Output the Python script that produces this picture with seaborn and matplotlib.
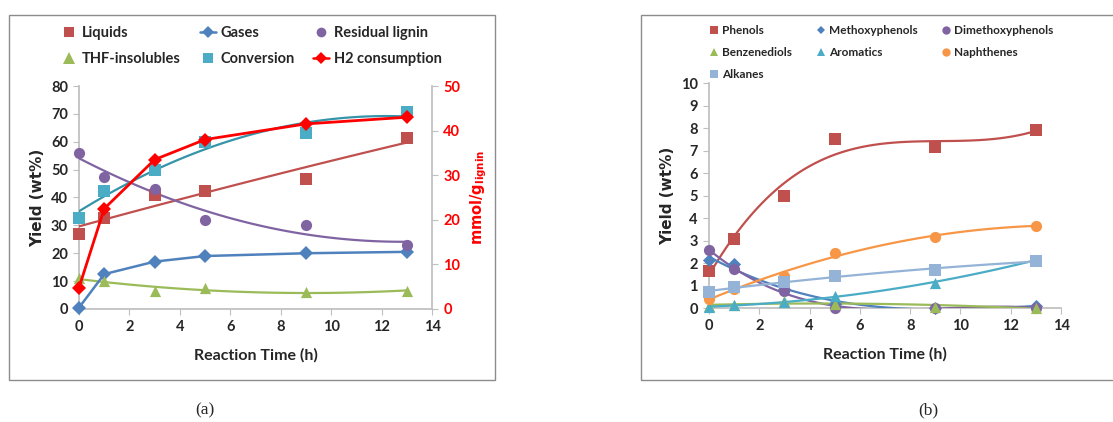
import numpy as np
import pandas as pd
import matplotlib.pyplot as plt
import seaborn as sns
from matplotlib.lines import Line2D
from matplotlib.patches import Rectangle

# Reaction times (h)
time_h = [0, 1, 3, 5, 9, 13]

# Panel (a): product yields (wt%) and H2 consumption (mmol/g lignin)
liquids = [27, 32.5, 41, 42.5, 46.5, 61.5]
gases = [0.5, 12.5, 17, 19, 20, 20.5]
residual_lignin = [56, 47.5, 43, 32, 30, 23]
thf_insolubles = [11, 10, 6.5, 7.5, 6, 6.5]
conversion = [32.5, 42.5, 50, 60, 63, 70.5]
h2_consumption = [4.8, 22.5, 33.5, 38, 41.5, 43]

# Panel (b): monomer yields (wt%)
phenols = [1.65, 3.08, 4.98, 7.53, 7.14, 7.93]
methoxyphenols = [2.13, 1.95, 0.85, 0.2, 0.0, 0.08]
dimethoxyphenols = [2.6, 1.72, 0.77, 0.0, 0.0, 0.0]
benzenediols = [0.1, 0.15, 0.3, 0.2, 0.05, 0.0]
aromatics = [0.04, 0.13, 0.25, 0.55, 1.11, 2.15]
naphthenes = [0.41, 0.84, 1.44, 2.46, 3.17, 3.66]
alkanes = [0.71, 0.93, 1.16, 1.41, 1.7, 2.09]

# Excel 2010 colours
RED_BROWN = '#C0504D'
BLUE = '#4F81BD'
PURPLE = '#8064A2'
GREEN = '#9BBB59'
TEAL = '#4BACC6'
ORANGE = '#F79646'
LIGHT_BLUE = '#95B3D7'
AXIS_GRAY = '#BFBFBF'

sns.set_theme(style='white')
plt.rcParams['font.family'] = ['Lato', 'DejaVu Sans']
plt.rcParams['font.weight'] = 'bold'
plt.rcParams['mathtext.fontset'] = 'dejavusans'

fig = plt.figure(figsize=(11.13, 4.22), dpi=100)
ax_a = fig.add_axes([0.0710, 0.2678, 0.3172, 0.5284])
ax_h2 = ax_a.twinx()
ax_b = fig.add_axes([0.6370, 0.2701, 0.3163, 0.5332])

# outer frames of the two panels
fig.patches.append(Rectangle((0.0081, 0.0995), 0.4367, 0.865, transform=fig.transFigure,
                             fill=False, edgecolor='#8c8c8c', lw=1.0))
fig.patches.append(Rectangle((0.5760, 0.0995), 0.43, 0.865, transform=fig.transFigure,
                             fill=False, edgecolor='#8c8c8c', lw=1.0))


def trend(ax, vals, color, marker, order, size=65, line_color=None, lw=1.6):
    # markers plus polynomial trendline (Excel style)
    sns.regplot(x=time_h, y=vals, ax=ax, order=order, ci=None, truncate=True,
                marker=marker, color=color,
                scatter_kws=dict(s=size, alpha=1, linewidths=0, zorder=4, clip_on=False),
                line_kws=dict(lw=lw, zorder=3, color=line_color or color))


def connected(ax, vals, color, ms=7.5, lw=1.8):
    # line series with diamond markers
    sns.lineplot(x=time_h, y=vals, ax=ax, color=color, marker='D', markersize=ms,
                 markeredgewidth=0, lw=lw, zorder=4, clip_on=False)


# ---- panel (a)
trend(ax_a, liquids, RED_BROWN, 's', 2)
connected(ax_a, gases, BLUE)
trend(ax_a, residual_lignin, PURPLE, 'o', 2)
trend(ax_a, thf_insolubles, GREEN, '^', 2)
trend(ax_a, conversion, TEAL, 's', 2, line_color='#3594A9')
connected(ax_h2, h2_consumption, 'red', lw=2)

ax_a.set_xlim(0, 14)
ax_a.set_ylim(0, 80)
ax_a.set_yticks(range(0, 81, 10))
ax_h2.set_ylim(0, 50)
ax_h2.set_yticks(range(0, 51, 10))
ax_a.set_xticks(range(0, 15, 2))
ax_a.set_xlabel('Reaction Time (h)', fontsize=11.5, fontweight='bold', labelpad=10)
ax_a.set_ylabel('Yield (wt%)', fontsize=11, fontweight='bold', family='DejaVu Sans', labelpad=4)
ax_h2.set_ylabel(r'mmol/g$_{\mathbf{lignin}}$', fontsize=10.5, fontweight='bold',
                 family='DejaVu Sans', color='red', labelpad=6)

# ---- panel (b)
trend(ax_b, phenols, RED_BROWN, 's', 3)
trend(ax_b, methoxyphenols, BLUE, 'D', 3, size=45)
trend(ax_b, dimethoxyphenols, PURPLE, 'o', 3)
trend(ax_b, benzenediols, GREEN, '^', 2)
trend(ax_b, aromatics, TEAL, '^', 2)
trend(ax_b, naphthenes, ORANGE, 'o', 2)
trend(ax_b, alkanes, LIGHT_BLUE, 's', 2)

ax_b.set_xlim(0, 14)
ax_b.set_ylim(0, 10)
ax_b.set_yticks(range(0, 11))
ax_b.set_xticks(range(0, 15, 2))
ax_b.set_xlabel('Reaction Time (h)', fontsize=11.5, fontweight='bold', labelpad=10)
ax_b.set_ylabel('Yield (wt%)', fontsize=11, fontweight='bold', family='DejaVu Sans', labelpad=4)

# Excel-like axes
for ax in (ax_a, ax_h2, ax_b):
    for side in ('top', 'right', 'left', 'bottom'):
        ax.spines[side].set_visible(False)
    ax.grid(False)
    if ax.get_legend() is not None:
        ax.get_legend().remove()
for ax in (ax_a, ax_b):
    ax.spines['left'].set_visible(True)
    ax.spines['bottom'].set_visible(True)
    ax.spines['left'].set_color(AXIS_GRAY)
    ax.spines['bottom'].set_color(AXIS_GRAY)
    ax.tick_params(axis='both', direction='out', length=4, width=0.8, color=AXIS_GRAY,
                   labelsize=10.5, pad=4, left=True, bottom=True)
    ax.set_facecolor('none')
ax_h2.spines['right'].set_visible(True)
ax_h2.spines['right'].set_color(AXIS_GRAY)
ax_h2.tick_params(axis='y', direction='out', length=4, width=0.8, color=AXIS_GRAY,
                  labelsize=10.5, labelcolor='red', pad=4, right=True)
for ax in (ax_a, ax_h2, ax_b):
    for lbl in ax.get_xticklabels() + ax.get_yticklabels():
        lbl.set_fontweight('bold')

# ---- legends
def handle(color, marker, ms, line=False):
    return Line2D([], [], color=color, marker=marker, markersize=ms,
                  linestyle='-' if line else 'none', lw=1.8, markeredgewidth=0)


leg_a = [
    (handle(RED_BROWN, 's', 7), 'Liquids'),
    (handle(GREEN, '^', 8), 'THF-insolubles'),
    (handle(BLUE, 'D', 6, line=True), 'Gases'),
    (handle(TEAL, 's', 7), 'Conversion'),
    (handle(PURPLE, 'o', 7), 'Residual lignin'),
    (handle('red', 'D', 6, line=True), 'H2 consumption'),
]
fig.legend([h for h, _ in leg_a], [t for _, t in leg_a], ncol=3, loc='center',
           bbox_to_anchor=(0.226, 0.891), bbox_transform=fig.transFigure,
           frameon=False, fontsize=10.5, handlelength=1.1, handletextpad=0.3,
           columnspacing=1.3, labelspacing=0.8, borderpad=0)

leg_b = [
    (handle(RED_BROWN, 's', 6), 'Phenols'),
    (handle(GREEN, '^', 6), 'Benzenediols'),
    (handle(LIGHT_BLUE, 's', 6), 'Alkanes'),
    (handle(BLUE, 'D', 4.5), 'Methoxyphenols'),
    (handle(TEAL, '^', 6), 'Aromatics'),
    (handle(PURPLE, 'o', 6), 'Dimethoxyphenols'),
    (handle(ORANGE, 'o', 6), 'Naphthenes'),
]
fig.legend([h for h, _ in leg_b], [t for _, t in leg_b], ncol=3, loc='center',
           bbox_to_anchor=(0.792, 0.875), bbox_transform=fig.transFigure,
           frameon=False, fontsize=8.5, handlelength=0.8, handletextpad=0.3,
           columnspacing=2.0, labelspacing=0.95, borderpad=0)

# captions
fig.text(205 / 1113, 1 - 410 / 422, '(a)', ha='center', va='center', fontsize=12.5,
         fontweight='normal', family='Liberation Serif')
fig.text(928 / 1113, 1 - 410 / 422, '(b)', ha='center', va='center', fontsize=12.5,
         fontweight='normal', family='Liberation Serif')

fig.savefig('out.png', dpi=100, facecolor='white')
